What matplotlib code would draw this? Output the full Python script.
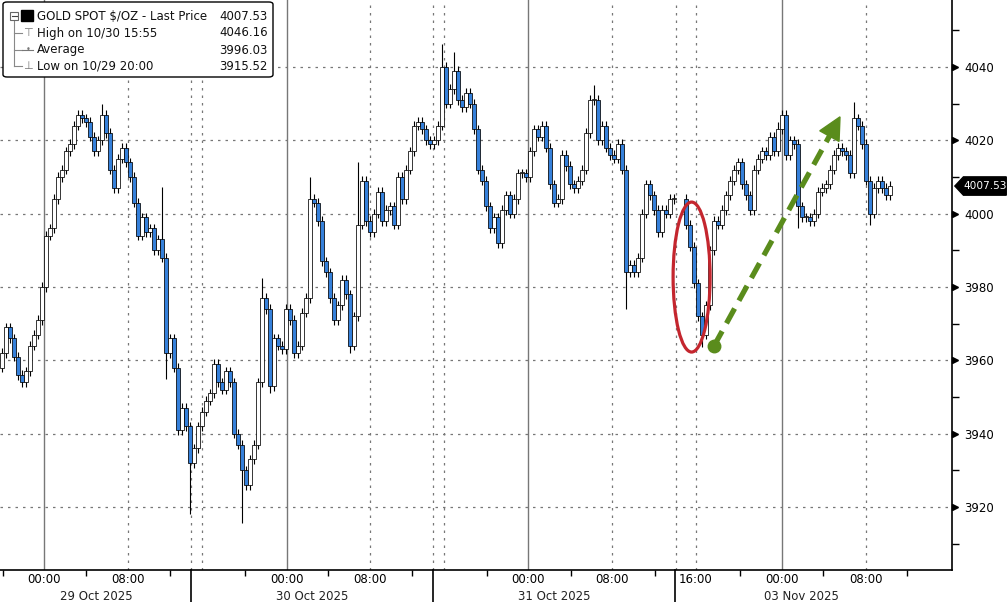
import matplotlib
matplotlib.use("Agg")
import matplotlib.pyplot as plt
from matplotlib.patches import Ellipse, FancyBboxPatch, Polygon

# closing prices of each bar (None = market closed)
closes = [
    3962, 3969, 3966, 3961, 3956, 3954, 3957, 3964, 3967, 3971,
    3980, 3994, 3996, 4004, 4010, 4012, 4017, 4019, 4024, 4027,
    4026, 4025, 4021, 4017, 4020, 4027, 4022, 4012, 4007, 4015,
    4018, 4014, 4010, 4003, 3994, 3999, 3995, 3996, 3990, 3993,
    3988, 3962, 3966, 3958, 3941, 3947, 3942, 3932, 3936, 3942,
    3946, 3949, 3951, 3959, 3954, 3952, 3957, 3954, 3940, 3937,
    3930, 3926, 3933, 3937, 3954, 3977, 3974, 3953, 3966, 3964,
    3963, 3974, 3971, 3962, 3964, 3973, 3977, 4004, 4003, 3998,
    3987, 3984, 3977, 3971, 3975, 3982, 3978, 3964, 3972, 3997,
    4009, 3998, 3995, 4000, 4006, 3998, 4001, 4002, 3997, 4010,
    4004, 4012, 4017, 4024, 4025, 4023, 4020, 4019, 4020, 4024,
    4040, 4030, 4034, 4039, 4031, 4029, 4033, 4030, 4023, 4012,
    4009, 4002, 3996, 3999, 3992, 4001, 4005, 4000, 4004, 4011,
    4011, 4010, 4017, 4023, 4021, 4024, 4018, 4008, 4003, 4004,
    4016, 4013, 4008, 4007, 4009, 4012, 4022, 4031, 4031, 4020,
    4024, 4018, 4016, 4015, 4019, 4012, 3984, 3986, 3984, 3988,
    4000, 4008, 4005, 4001, 3995, 4001, 4000, 4004, 4004, None,
    None, 3997, 3991, 3981, 3972, 3967, 3975, 3990, 3998, 3997,
    4001, 4005, 4009, 4012, 4014, 4008, 4005, 4001, 4012, 4015,
    4017, 4016, 4021, 4017, 4023, 4027, 4016, 4020, 4019, 4002,
    3999, 3999, 3998, 4000, 4006, 4007, 4008, 4012, 4016, 4018,
    4017, 4016, 4011, 4026, 4024, 4019, 4009, 4000, 4007, 4009,
    4007, 4005, 4007.53,
]
first_open = 3958
spike_highs = {25: 4030, 40: 4007.3, 65: 3982.5, 77: 4010, 89: 4014,
               110: 4046.16, 113: 4044, 148: 4035, 194: 4025, 213: 4030.5}
spike_lows = {41: 3955, 47: 3918.0, 60: 3915.52, 67: 3951, 87: 3962,
              156: 3974, 175: 3963.5, 199: 3996, 217: 3997}

price_ticks = [3920, 3940, 3960, 3980, 4000, 4020, 4040]
minor_price_ticks = [3910, 3930, 3950, 3970, 3990, 4010, 4030, 4050]
time_tick_pos = [10.5, 31.5, 71.25, 92, 131.5, 152.5, 173.5, 195, 216]
time_tick_lbl = ["00:00", "08:00", "00:00", "08:00", "00:00", "08:00",
                 "16:00", "00:00", "08:00"]
day_lines = [10.5, 71.25, 131.5, 195]
dotted_lines = [31.5, 47.25, 50, 92, 107.75, 110.5, 152.5, 168.5, 173.5, 216]
separators = [47.25, 107.75, 168.25]
minor_time_ticks = [0.25, 21, 42, 60.75, 81.5, 102.5, 121.25, 142.25,
                    163.25, 184.5, 205.25, 226.25]
date_pos = [23.5, 77.5, 138, 199.75]
date_lbl = ["29 Oct 2025", "30 Oct 2025", "31 Oct 2025", "03 Nov 2025"]

legend_rows = ["GOLD SPOT $/OZ - Last Price", "High on 10/30 15:55",
               "Average", "Low on 10/29 20:00"]
legend_vals = ["4007.53", "4046.16", "3996.03", "3915.52"]
last_price = 4007.53

BLUE = "#3580da"
W, H = 1008, 602

fig = plt.figure(figsize=(W / 100, H / 100), dpi=100)
ax = fig.add_axes([0, 32 / H, 952 / W, 570 / H])
ax.set_xlim(-0.5, 237.5)
ax.set_ylim(3902.8, 4058.27)

# grid
for y in price_ticks:
    ax.axhline(y, color="#777777", lw=0.9, ls=(0, (2, 4)), zorder=0)
for x in day_lines:
    ax.axvline(x, color="#777777", lw=1.0, zorder=0)
for x in dotted_lines:
    ax.axvline(x, color="#777777", lw=0.9, ls=(0, (2, 4)), zorder=0)

# candles
prev = first_open
for i, c in enumerate(closes):
    if c is None:
        continue
    o = prev
    hi = spike_highs.get(i, max(o, c) + 1.3)
    lo = spike_lows.get(i, min(o, c) - 1.3)
    ax.vlines(i, lo, hi, color="black", lw=0.8, zorder=2)
    body = max(abs(c - o), 0.3)
    fc = "white" if c >= o else BLUE
    ax.bar(i, body, bottom=min(o, c), width=0.8, color=fc,
           edgecolor="black", linewidth=0.55, zorder=3)
    prev = c

# spines and ticks
for s in ("left", "top"):
    ax.spines[s].set_visible(False)
ax.spines["right"].set_linewidth(1.2)
ax.spines["bottom"].set_linewidth(1.2)
ax.yaxis.tick_right()
ax.set_yticks(price_ticks)
ax.set_yticklabels([str(v) for v in price_ticks])
ax.set_yticks(minor_price_ticks, minor=True)
ax.tick_params(axis="y", which="major", length=0, pad=9, labelsize=8.5)
ax.tick_params(axis="y", which="minor", length=5, width=1, direction="out")
yt = ax.get_yaxis_transform()
ax.plot([1.0035] * len(price_ticks), price_ticks, ls="none", marker=">",
        ms=5, color="black", transform=yt, clip_on=False)

ax.set_xticks(time_tick_pos)
ax.set_xticklabels(time_tick_lbl)
ax.set_xticks(minor_time_ticks, minor=True)
ax.tick_params(axis="x", which="major", length=0, pad=2, labelsize=8.5)
ax.tick_params(axis="x", which="minor", length=4, width=1, direction="out")
xt = ax.get_xaxis_transform()
for x, t in zip(date_pos, date_lbl):
    ax.text(x, -0.046, t, transform=xt, ha="center", va="center",
            fontsize=8.5, color="#222222")
for x in separators:
    ax.plot([x, x], [0, -0.06], transform=xt, color="black", lw=1.2,
            clip_on=False)

# last price tag
tag = Polygon([(1.003, last_price), (1.012, last_price + 2.5),
               (1.057, last_price + 2.5), (1.057, last_price - 2.5),
               (1.012, last_price - 2.5)], closed=True, transform=yt,
              facecolor="black", edgecolor="black", clip_on=False, zorder=5)
ax.add_patch(tag)
ax.text(1.0345, last_price, f"{last_price:.2f}", transform=yt, ha="center",
        va="center", color="white", fontsize=7.6, clip_on=False, zorder=6)

# red ellipse
ax.add_patch(Ellipse((172.4, 3982.7), 9.25, 40.9, fill=False,
                     edgecolor="#c4262e", lw=2.3, zorder=6))

# green dashed arrow
GREEN = "#5a8c1c"
start = (178, 3963.9)
tip = (209.5, 4026.4)
fig.canvas.draw()
p0 = ax.transData.transform(start)
p1 = ax.transData.transform(tip)
d = p1 - p0
d = d / (d ** 2).sum() ** 0.5
n = [-d[1], d[0]]
base = p1 - 22 * d
head = [p1, base + [11 * n[0], 11 * n[1]], base - [11 * n[0], 11 * n[1]]]
inv = ax.transData.inverted()
b_data = inv.transform(base + 2 * d)
ax.plot([start[0], b_data[0]], [start[1], b_data[1]], color=GREEN, lw=3.8,
        ls=(0, (3.2, 1.7)), solid_capstyle="butt", zorder=7)
ax.add_patch(Polygon(inv.transform(head), closed=True, color=GREEN, zorder=7))
ax.plot(*start, marker="o", ms=9, color=GREEN, zorder=7)

# legend box (figure pixel coordinates)
def fx(x):
    return x / W

def fy(y):
    return 1 - y / H

fig.patches.append(FancyBboxPatch((fx(3), fy(77)), fx(270), 75 / H,
                                  boxstyle="round,pad=0,rounding_size=0.004",
                                  transform=fig.transFigure, facecolor="white",
                                  edgecolor="black", lw=1.0, zorder=10))
row_y = [16, 33, 50, 66]
for k, (t, v) in enumerate(zip(legend_rows, legend_vals)):
    fig.text(fx(37), fy(row_y[k]), t, ha="left", va="center", fontsize=8.5,
             color="#111111", zorder=11)
    fig.text(fx(268), fy(row_y[k]), v, ha="right", va="center", fontsize=8.5,
             color="#111111", zorder=11)
# tree decoration
fig.lines.append(plt.Line2D([fx(14), fx(14)], [fy(20), fy(66)], color="#888888",
                            lw=0.8, transform=fig.transFigure, zorder=11))
for y in row_y[1:]:
    fig.lines.append(plt.Line2D([fx(14), fx(22)], [fy(y), fy(y)], color="#888888",
                                lw=0.8, transform=fig.transFigure, zorder=11))
fig.patches.append(plt.Rectangle((fx(10), fy(20)), 8 / W, 8 / H, fill=True,
                                 facecolor="white", edgecolor="#666666", lw=0.8,
                                 transform=fig.transFigure, zorder=12))
fig.lines.append(plt.Line2D([fx(11.5), fx(16.5)], [fy(16), fy(16)], color="#444444",
                            lw=0.8, transform=fig.transFigure, zorder=13))
fig.patches.append(plt.Rectangle((fx(21), fy(21)), 12 / W, 11 / H, color="black",
                                 transform=fig.transFigure, zorder=12))
fig.text(fx(28), fy(33), "\u22a4", ha="center", va="center", fontsize=8,
         color="#777777", zorder=12)
fig.lines.append(plt.Line2D([fx(22), fx(33)], [fy(50), fy(50)], color="#777777",
                            lw=0.8, transform=fig.transFigure, zorder=12))
fig.text(fx(28), fy(50), "\u2022", ha="center", va="center", fontsize=6,
         color="#777777", zorder=12)
fig.text(fx(28), fy(66), "\u22a5", ha="center", va="center", fontsize=8,
         color="#777777", zorder=12)

fig.savefig("out.png", dpi=100)
